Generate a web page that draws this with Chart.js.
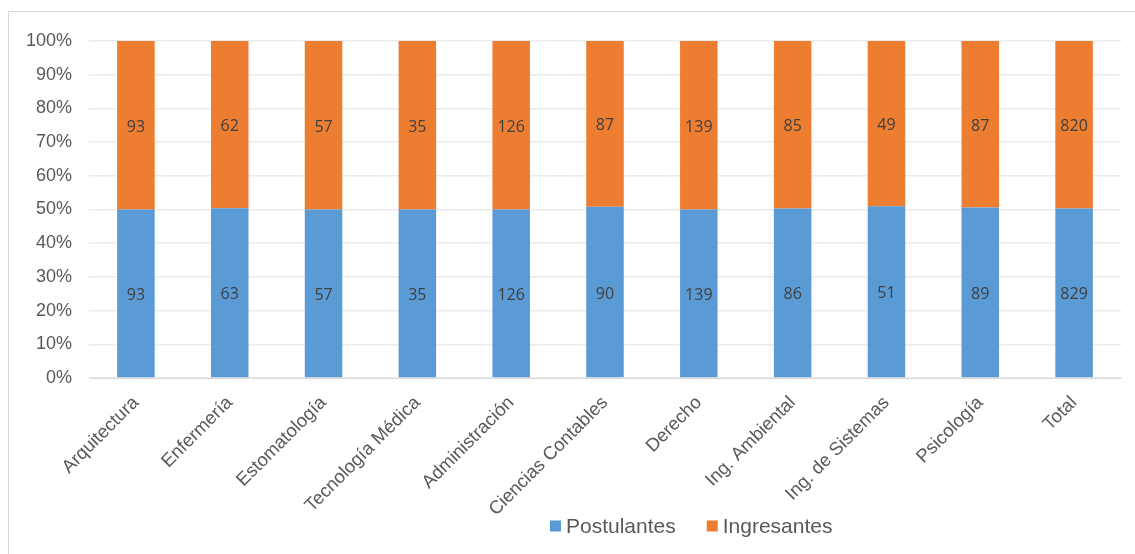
<!DOCTYPE html>
<html>
<head>
<meta charset="utf-8">
<script src="https://cdn.jsdelivr.net/npm/chart.js@4"></script>
<style>
html,body{margin:0;padding:0;background:#fff;}
#wrap{position:relative;width:1135px;height:554px;}
#frame{position:absolute;left:8px;top:11px;width:1140px;height:560px;border:1px solid #d9d9d9;box-sizing:border-box;}
canvas{position:absolute;left:0;top:0;}
</style>
</head>
<body>
<div id="wrap"><div id="frame"></div><canvas id="c" width="1135" height="554"></canvas></div>
<script>
const categories = ["Arquitectura","Enfermería","Estomatología","Tecnología Médica","Administración","Ciencias Contables","Derecho","Ing. Ambiental","Ing. de Sistemas","Psicología","Total"];
const postulantes = [93,63,57,35,126,90,139,86,51,89,829];
const ingresantes = [93,62,57,35,126,87,139,85,49,87,820];
const seriesNames = ["Postulantes","Ingresantes"];
const seriesColors = ["#5B9BD5","#ED7D31"];
const yTicks = [0,10,20,30,40,50,60,70,80,90,100];

const raw = [postulantes, ingresantes];
const pct = raw.map((arr, si) => arr.map((v, i) => v / (postulantes[i] + ingresantes[i]) * 100));

const valueLabels = {
  id: 'valueLabels',
  afterDatasetsDraw(chart) {
    const ctx = chart.ctx;
    ctx.save();
    ctx.font = '16px "Open Sans"';
    ctx.fillStyle = '#404040';
    ctx.textAlign = 'center';
    ctx.textBaseline = 'middle';
    chart.data.datasets.forEach((ds, di) => {
      const meta = chart.getDatasetMeta(di);
      meta.data.forEach((bar, i) => {
        const y = (bar.y + bar.base) / 2 + 2;
        ctx.fillText(String(raw[di][i]), bar.x, y);
      });
    });
    ctx.restore();
  }
};

const customLegend = {
  id: 'customLegend',
  afterDraw(chart) {
    const ctx = chart.ctx;
    ctx.save();
    ctx.font = '21px "Liberation Sans", Arial, sans-serif';
    ctx.textBaseline = 'middle';
    ctx.textAlign = 'left';
    const y = 526;
    let x = 550;
    seriesNames.forEach((name, i) => {
      ctx.fillStyle = seriesColors[i];
      ctx.fillRect(x, y - 5.5, 11, 11);
      ctx.fillStyle = '#595959';
      ctx.fillText(name, x + 16, y + 1);
      x += 16 + ctx.measureText(name).width + 31;
    });
    ctx.restore();
  }
};

new Chart(document.getElementById('c'), {
  type: 'bar',
  data: {
    labels: categories,
    datasets: seriesNames.map((n, i) => ({
      label: n,
      data: pct[i],
      backgroundColor: seriesColors[i],
      borderWidth: 0,
      categoryPercentage: 1,
      barPercentage: 0.4
    }))
  },
  options: {
    responsive: false,
    animation: false,
    devicePixelRatio: 1,
    layout: { padding: { top: 41, right: 14, left: 0, bottom: 0 } },
    plugins: { legend: { display: false }, tooltip: { enabled: false } },
    scales: {
      x: {
        stacked: true,
        afterFit(s) { s.height = 176; },
        grid: { display: false, drawTicks: false },
        border: { display: true, color: '#d9d9d9', width: 1 },
        ticks: {
          minRotation: 45, maxRotation: 45, autoSkip: false,
          padding: 14,
          color: '#595959',
          font: { family: '"Liberation Sans", Arial, sans-serif', size: 18.5 }
        }
      },
      y: {
        stacked: true,
        min: 0, max: 100,
        afterFit(s) { s.width = 89; },
        afterBuildTicks(s) { s.ticks = yTicks.map(v => ({ value: v })); },
        grid: { color: '#ebebeb', lineWidth: 1.5, drawTicks: false },
        border: { display: false },
        ticks: {
          padding: 17,
          color: '#595959',
          font: { family: '"Liberation Sans", Arial, sans-serif', size: 18 },
          callback: v => v + '%'
        }
      }
    }
  },
  plugins: [valueLabels, customLegend]
});
</script>
</body>
</html>
